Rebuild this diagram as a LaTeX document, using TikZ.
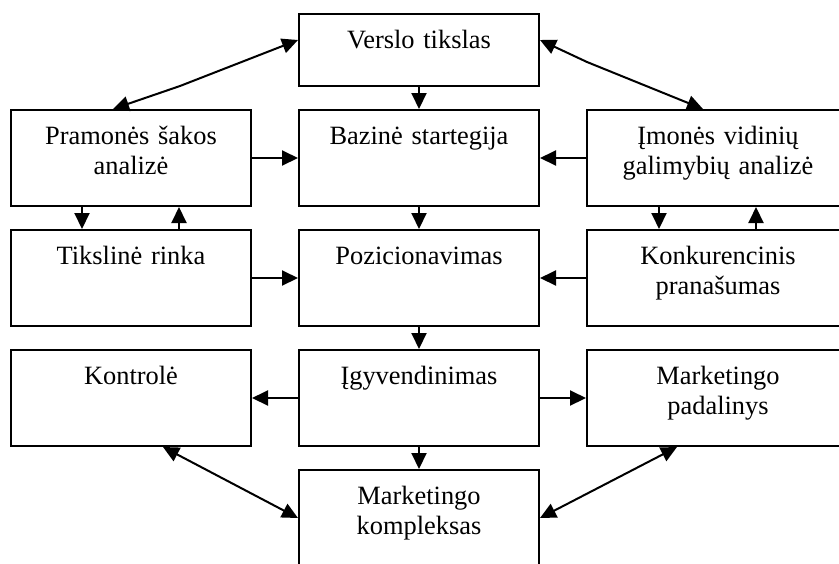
\documentclass[tikz,border=0pt]{standalone}
\usepackage{fontspec}
\setmainfont{Liberation Serif}
\usetikzlibrary{arrows.meta}
\begin{document}
\begin{tikzpicture}[x=0.5pt,y=-0.5pt,
  box/.style={draw, line width=1pt, minimum width=120pt, minimum height=48pt, inner sep=0pt},
  widebox/.style={box, minimum width=131pt},
  boxtext/.style={anchor=base, align=center, text width=120pt, inner sep=0pt,
    font=\fontsize{13.2pt}{15.3pt}\selectfont},
  tip/.style={Triangle[length=8pt,width=7.5pt]},
  conn/.style={line width=1pt, -{Triangle[length=8pt,width=7.5pt]}},
  biconn/.style={line width=1pt, {Triangle[length=8pt,width=7.5pt]}-{Triangle[length=8pt,width=7.5pt]}}]
\useasboundingbox (0,0) rectangle (839,563);

% boxes
\node[box, minimum height=36pt] (verslo) at (419,50) {};
\node[box] (pramones) at (131,158) {};
\node[box] (bazine) at (419,158) {};
\node[widebox] (imones) at (718,158) {};
\node[box] (tiksline) at (131,278) {};
\node[box] (pozic) at (419,278) {};
\node[widebox] (konkur) at (718,278) {};
\node[box] (kontrole) at (131,398) {};
\node[box] (igyv) at (419,398) {};
\node[widebox] (padal) at (718,398) {};
\node[box] (kompl) at (419,518) {};

% box captions, set from the top of each box
\node[boxtext] (verslo-t) at ([yshift=-17.5pt]verslo.north) {Verslo tikslas};
\node[boxtext] (pramones-t) at ([yshift=-17.5pt]pramones.north) {Pramonės šakos\\analizė};
\node[boxtext] (bazine-t) at ([yshift=-17.5pt]bazine.north) {Bazinė startegija};
\node[boxtext] (imones-t) at ([yshift=-17.5pt]imones.north) {Įmonės vidinių\\galimybių analizė};
\node[boxtext] (tiksline-t) at ([yshift=-17.5pt]tiksline.north) {Tikslinė rinka};
\node[boxtext] (pozic-t) at ([yshift=-17.5pt]pozic.north) {Pozicionavimas};
\node[boxtext] (konkur-t) at ([yshift=-17.5pt]konkur.north) {Konkurencinis\\pranašumas};
\node[boxtext] (kontrole-t) at ([yshift=-17.5pt]kontrole.north) {Kontrolė};
\node[boxtext] (igyv-t) at ([yshift=-17.5pt]igyv.north) {Įgyvendinimas};
\node[boxtext] (padal-t) at ([yshift=-17.5pt]padal.north) {Marketingo\\padalinys};
\node[boxtext] (kompl-t) at ([yshift=-17.5pt]kompl.north) {Marketingo\\kompleksas};

% bend points of the two upper two-way links
\coordinate (kinkL) at (180,86);
\coordinate (kinkR) at (587,62);

% central chain
\draw[conn] (verslo.south) -- (bazine.north);
\draw[conn] (bazine.south) -- (pozic.north);
\draw[conn] (pozic.south) -- (igyv.north);
\draw[conn] (igyv.south) -- (kompl.north);

% side inputs
\draw[conn] (pramones.east) -- (bazine.west);
\draw[conn] (imones.west) -- (bazine.east);
\draw[conn] (tiksline.east) -- (pozic.west);
\draw[conn] (konkur.west) -- (pozic.east);
\draw[conn] (igyv.west) -- (kontrole.east);
\draw[conn] (igyv.east) -- (padal.west);

% feedback pairs
\draw[conn] ([xshift=-24.5pt]pramones.south) -- ([xshift=-24.5pt]tiksline.north);
\draw[conn] ([xshift=24pt]tiksline.north) -- ([xshift=24pt]pramones.south);
\draw[conn] ([xshift=-29.5pt]imones.south) -- ([xshift=-29.5pt]konkur.north);
\draw[conn] ([xshift=19pt]konkur.north) -- ([xshift=19pt]imones.south);

% two-way links
\draw[biconn] ([yshift=5pt]verslo.west) -- (kinkL) -- ([xshift=-9pt]pramones.north);
\draw[biconn] ([yshift=5pt]verslo.east) -- (kinkR) -- ([xshift=-7.5pt]imones.north);
\draw[biconn] ([xshift=16pt]kontrole.south) -- (kompl.west);
\draw[biconn] ([xshift=-20.5pt]padal.south) -- (kompl.east);
\end{tikzpicture}
\end{document}
